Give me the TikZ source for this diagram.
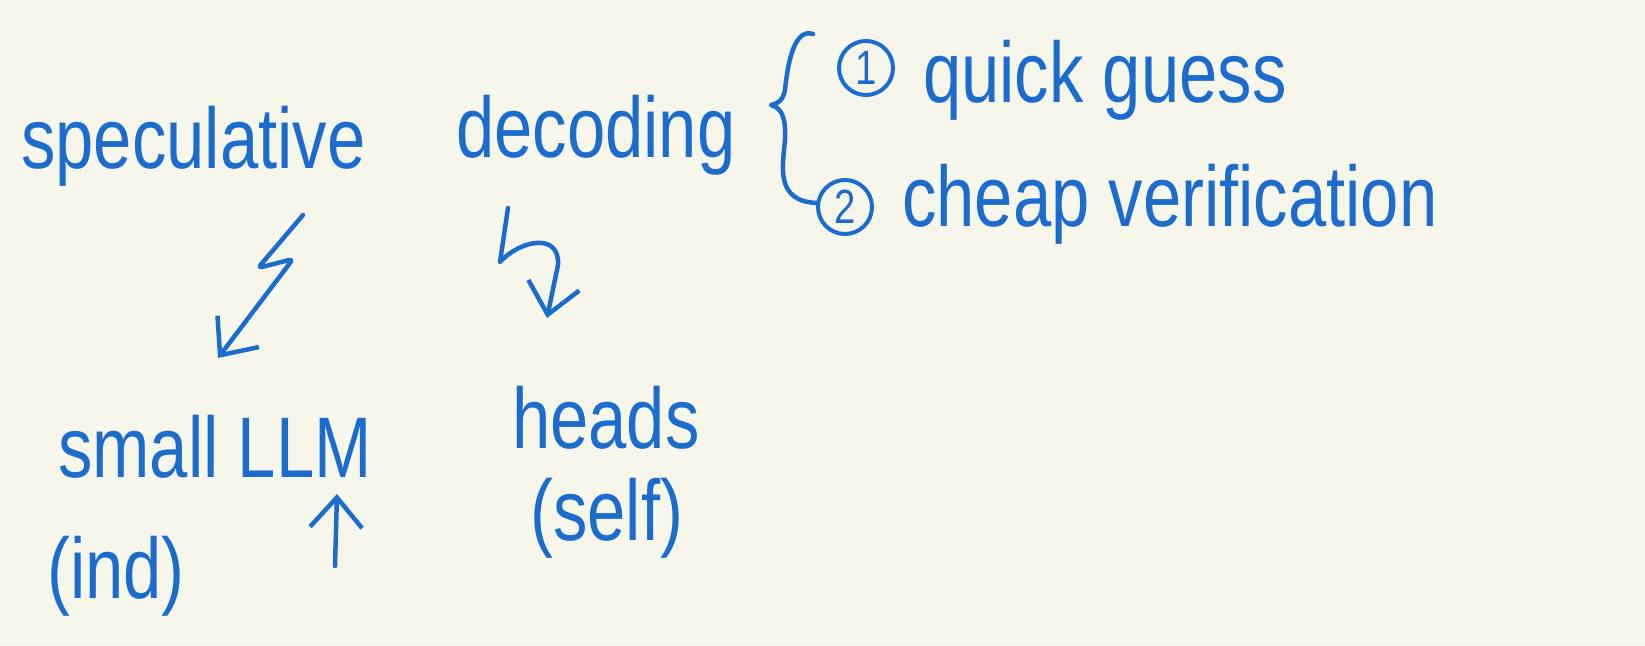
\documentclass[tikz,border=0pt]{standalone}
\usepackage{fontspec}
\usetikzlibrary{arrows.meta}
\newfontfamily\hand[FakeStretch=0.8]{Liberation Sans}
\definecolor{ink}{RGB}{28,108,206}
\definecolor{paper}{RGB}{247,246,234}
\tikzset{
  txt/.style={inner sep=0pt, anchor=base west, text=ink, font=\hand\fontsize{86}{90}\selectfont},
  pen/.style={draw=ink, line width=4.5pt, line cap=round, line join=round},
  arr/.style={pen, -{Straight Barb[length=30pt,width=52pt,line width=4.5pt]}},
  num/.style={circle, draw=ink, line width=4pt, inner sep=0pt, minimum size=54pt, text=ink, font=\hand\fontsize{48}{48}\selectfont}
}
\begin{document}
\begin{tikzpicture}[x=1pt,y=-1pt]
\fill[paper] (0,0) rectangle (1645,645);
\useasboundingbox (0,0) rectangle (1645,645);

\node[txt] (spec) at (21,168) {speculative};
\node[txt] (dec) at (456,157) {decoding};
\node[num] (n1) at (866,68) {1};
\node[txt] (quick) at (923,102) {quick guess};
\node[num] (n2) at (845,207) {2};
\node[txt] (cheap) at (902,226) {cheap verification};
\node[txt] (small) at (58,477) {small LLM};
\node[txt] (ind) at (47,598) {(ind)};
\node[txt] (heads) at (512,448) {heads};
\node[txt] (self) at (530,540) {(self)};

% brace
\coordinate (bt) at (813,34);
\coordinate (bm) at (771,105);
\coordinate (bb) at (818,203);
\draw[pen] (bt) .. controls (795,28) and (788,60) .. (785,90)
  .. controls (783,100) and (778,104) .. (bm)
  .. controls (782,108) and (786,118) .. (785,140)
  .. controls (783,165) and (774,202) .. (bb);

% left zigzag arrow
\coordinate (a0) at (303,215);
\coordinate (a1) at (258,268);
\coordinate (a2) at (293,259);
\coordinate (a3) at (218,358);
\draw[arr, rounded corners=4pt] (a0) -- (a1) -- (a2) -- (a3);

% right zigzag arrow
\coordinate (b0) at (508,208);
\coordinate (b1) at (500,262);
\coordinate (b2) at (558,265);
\coordinate (b3) at (547,318);
\draw[arr] (b0) -- (b1) .. controls (520,240) and (560,232) .. (b2) -- (b3);

% up arrow
\coordinate (u0) at (335,566);
\coordinate (u1) at (337,494);
\draw[arr] (u0) -- (u1);
\end{tikzpicture}
\end{document}
